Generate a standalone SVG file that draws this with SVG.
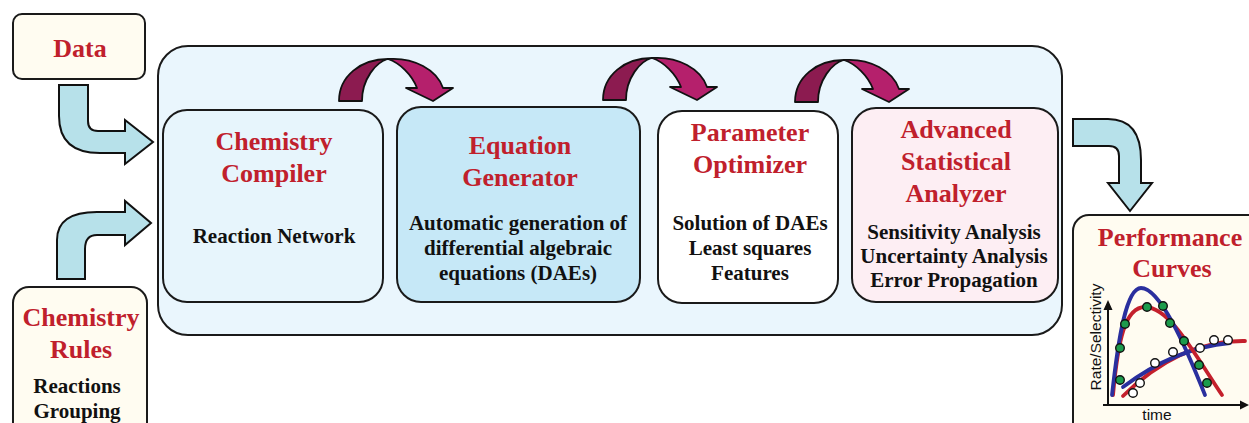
<svg xmlns="http://www.w3.org/2000/svg" xmlns:xlink="http://www.w3.org/1999/xlink" width="1249" height="423" viewBox="0 0 1249 423">
  <style>
    .box { stroke: #1a1a1a; stroke-width: 2; }
    .cream { fill: #fffcf1; }
    .title { font-family: "Liberation Serif", "Times New Roman", serif; font-weight: bold; font-size: 26px; fill: #c0202c; text-anchor: middle; }
    .body { font-family: "Liberation Serif", "Times New Roman", serif; font-weight: bold; font-size: 21px; fill: #111; text-anchor: middle; }
    .blue-arrow { fill: #b7e1ea; stroke: #111; stroke-width: 2; stroke-linejoin: miter; }
    .arc-dark { fill: #8c1b50; stroke: #111; stroke-width: 1.8; stroke-linejoin: round; }
    .arc-light { fill: #b5206c; stroke: #111; stroke-width: 1.8; stroke-linejoin: round; }
    .axis { stroke: #111; stroke-width: 2; fill: none; }
    .blue-curve { stroke: #2a2f9e; stroke-width: 3.8; fill: none; stroke-linecap: round; }
    .red-curve { stroke: #c4202c; stroke-width: 3.8; fill: none; stroke-linecap: round; }
    .dot-g { fill: #1c9b4c; stroke: #111; stroke-width: 1.4; }
    .dot-w { fill: #fff; stroke: #111; stroke-width: 1.4; }
    .chart-label { font-family: "Liberation Sans", Arial, sans-serif; font-size: 15.5px; fill: #111; text-anchor: middle; }
  </style>
  <defs>
    <!-- curved hand-off arrow between the pipeline stages -->
    <g id="hop-arrow">
      <path class="arc-dark" d="M0,101 C0,76 22,59 49,59 C37,62 23,79 23,101 Z"/>
      <path class="arc-light" d="M49,59 C75,57 98,70 104,88 L114,88 L94,101 L67,88 L78,88 C73,75 61,63 49,59 Z"/>
    </g>
  </defs>

  <rect width="1249" height="423" fill="#ffffff"/>

  <!-- large pipeline container -->
  <g id="pipeline">
    <rect class="box" x="158" y="46" width="904" height="289" rx="30" fill="#eaf6fd"/>
  </g>

  <g id="data">
    <rect class="box cream" x="13" y="14" width="132" height="65" rx="9"/>
    <text class="title" x="80" y="57">Data</text>
  </g>

  <g id="chemistry-rules">
    <rect class="box cream" x="13" y="287" width="134" height="160" rx="16"/>
    <text class="title" x="81" y="326">Chemistry</text>
    <text class="title" x="81" y="358">Rules</text>
    <text class="body" x="77" y="393">Reactions</text>
    <text class="body" x="77" y="418">Grouping</text>
  </g>

  <g id="chemistry-compiler">
    <rect class="box" x="163" y="110" width="220" height="192" rx="24" fill="#e7f5fc"/>
    <text class="title" x="274" y="150">Chemistry</text>
    <text class="title" x="274" y="182">Compiler</text>
    <text class="body" x="274" y="243">Reaction Network</text>
  </g>

  <g id="equation-generator">
    <rect class="box" x="397" y="107" width="243" height="195" rx="24" fill="#c6e8f7"/>
    <text class="title" x="520" y="154">Equation</text>
    <text class="title" x="520" y="186">Generator</text>
    <text class="body" x="518" y="230">Automatic generation of</text>
    <text class="body" x="518" y="255">differential algebraic</text>
    <text class="body" x="518" y="280">equations (DAEs)</text>
  </g>

  <g id="parameter-optimizer">
    <rect class="box" x="658" y="111" width="180" height="192" rx="24" fill="#ffffff"/>
    <text class="title" x="750" y="141">Parameter</text>
    <text class="title" x="750" y="173">Optimizer</text>
    <text class="body" x="750" y="230">Solution of DAEs</text>
    <text class="body" x="750" y="255">Least squares</text>
    <text class="body" x="750" y="280">Features</text>
  </g>

  <g id="statistical-analyzer">
    <rect class="box" x="852" y="108" width="206" height="194" rx="24" fill="#fdeef3"/>
    <text class="title" x="956" y="138">Advanced</text>
    <text class="title" x="956" y="170">Statistical</text>
    <text class="title" x="956" y="202">Analyzer</text>
    <text class="body" x="954" y="239">Sensitivity Analysis</text>
    <text class="body" x="954" y="263">Uncertainty Analysis</text>
    <text class="body" x="954" y="287">Error Propagation</text>
  </g>

  <g id="performance-curves">
    <rect class="box cream" x="1073" y="215" width="200" height="240" rx="16"/>
    <text class="title" x="1170" y="246">Performance</text>
    <text class="title" x="1172" y="277">Curves</text>
    <!-- axes -->
    <path class="axis" d="M1108,405 L1108,308 M1103,405 L1241,405"/>
    <path d="M1108,300 L1103.5,310 L1112.5,310 Z M1249,405 L1240,400.5 L1240,409.5 Z" fill="#111"/>
    <text class="chart-label" x="1157" y="420">time</text>
    <text class="chart-label" transform="translate(1101,337) rotate(-90)">Rate/Selectivity</text>
    <!-- model curves -->
    <path class="red-curve" d="M1123,396 Q1180,340 1245,341"/>
    <path class="blue-curve" d="M1123,387 Q1175,348 1230,343"/>
    <path class="red-curve" d="M1113,395 C1118,340 1125,307 1145,307 C1170,307 1195,355 1222,395"/>
    <path class="blue-curve" d="M1112,395 C1118,340 1126,288 1141,288 C1160,288 1185,345 1205,395"/>
    <!-- measured points -->
    <circle class="dot-g" cx="1120" cy="348" r="4.3"/>
    <circle class="dot-g" cx="1125" cy="324" r="4.3"/>
    <circle class="dot-g" cx="1147" cy="307" r="4.3"/>
    <circle class="dot-g" cx="1163" cy="306" r="4.3"/>
    <circle class="dot-g" cx="1170" cy="323" r="4.3"/>
    <circle class="dot-g" cx="1184" cy="341" r="4.3"/>
    <circle class="dot-g" cx="1199" cy="365" r="4.3"/>
    <circle class="dot-g" cx="1207" cy="383" r="4.3"/>
    <circle class="dot-g" cx="1120" cy="380" r="4.3"/>
    <circle class="dot-w" cx="1133" cy="393" r="4.3"/>
    <circle class="dot-w" cx="1140" cy="383" r="4.3"/>
    <circle class="dot-w" cx="1155" cy="363" r="4.3"/>
    <circle class="dot-w" cx="1173" cy="352" r="4.3"/>
    <circle class="dot-w" cx="1200" cy="348" r="4.3"/>
    <circle class="dot-w" cx="1214" cy="340" r="4.3"/>
    <circle class="dot-w" cx="1228" cy="340" r="4.3"/>
  </g>

  <!-- connectors -->
  <g id="connectors">
    <path class="blue-arrow" d="M59,85 L88,85 L88,121 Q88,131 98,131 L125,131 L125,120 L153,142 L125,164 L125,153 L100,153 Q59,153 59,116 Z"/>
    <path class="blue-arrow" d="M57,279 L57,240 Q57,212 97,212 L125,212 L125,201 L151,223 L125,245 L125,235 L97,235 Q85,235 85,249 L85,279 Z"/>
    <path class="blue-arrow" d="M1073,119 L1108,119 Q1141,119 1141,160 L1141,183 L1152,183 L1130,211 L1108,183 L1119,183 L1119,156 Q1119,146 1109,146 L1073,146 Z"/>
    <use xlink:href="#hop-arrow" transform="translate(339,0)"/>
    <use xlink:href="#hop-arrow" transform="translate(603,-1)"/>
    <use xlink:href="#hop-arrow" transform="translate(795,1)"/>
  </g>
</svg>
